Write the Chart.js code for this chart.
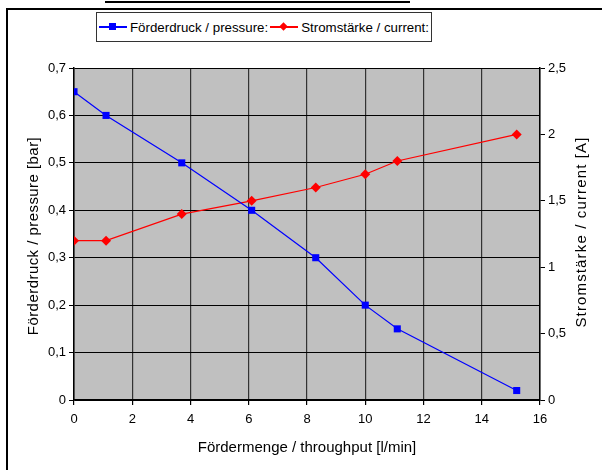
<!DOCTYPE html>
<html>
<head>
<meta charset="utf-8">
<script src="https://cdn.jsdelivr.net/npm/chart.js@4"></script>
<style>
  body { margin: 0; background: #fff; font-family: "Liberation Sans", Arial, sans-serif; }
  #wrap { position: relative; width: 602px; height: 470px; overflow: hidden; }
  #frame { position: absolute; left: 6px; top: 8px; width: 620px; height: 480px; border-left: 2px solid #000; border-top: 2px solid #000; }
  #titleLine { position: absolute; left: 105px; top: 1px; width: 305px; height: 2px; background: #000; }
  #legend { position: absolute; left: 96px; top: 12px; width: 334px; height: 28px; border: 1px solid #333; background: #fff;
            display: flex; align-items: center; justify-content: center; font-size: 13.3px; color: #000; white-space: nowrap; }
  .item { display: flex; align-items: center; margin: 0 1px; }
  .sym { position: relative; width: 28px; height: 10px; margin-right: 3px; }
  .sym .ln { position: absolute; left: 0; right: 0; top: 4px; height: 1.5px; }
  .sym .mk { position: absolute; left: 10px; top: 1px; width: 7px; height: 7px; }
  .sym .dia { transform: rotate(45deg) scale(0.85); }
  canvas { position: absolute; left: 0; top: 0; }
</style>
</head>
<body>
<div id="wrap">
  <div id="titleLine"></div>
  <div id="frame"></div>
  <canvas id="c" width="602" height="470"></canvas>
  <div id="legend">
    <div class="item"><div class="sym"><div class="ln" style="background:#0000ff"></div><div class="mk" style="background:#0000ff"></div></div>Förderdruck / pressure:</div>
    <div class="item"><div class="sym"><div class="ln" style="background:#ff0000"></div><div class="mk dia" style="background:#ff0000"></div></div>Stromstärke / current:</div>
  </div>
</div>
<script>
// throughput in l/min
const throughput = [0, 1.1, 3.7, 6.1, 8.3, 10, 11.1, 15.2];
const pressure = [0.65, 0.6, 0.5, 0.4, 0.3, 0.2, 0.15, 0.02];
const current = [1.2, 1.2, 1.4, 1.5, 1.6, 1.7, 1.8, 2.0];

const labelPressure = 'Förderdruck / pressure:';
const labelCurrent = 'Stromstärke / current:';
const titleX = 'Fördermenge / throughput [l/min]';
const titleLeft = 'Förderdruck / pressure [bar]';
const titleRight = 'Stromstärke / current [A]';

const fontFamily = '"Liberation Sans", Arial, sans-serif';

function comma(v) {
  return String(Math.round(v * 10) / 10).replace('.', ',');
}

// grey plot background
const plotBg = {
  id: 'plotBg',
  beforeDraw(chart) {
    const a = chart.chartArea, ctx = chart.ctx;
    ctx.save();
    ctx.fillStyle = '#c0c0c0';
    ctx.fillRect(a.left, a.top, a.right - a.left, a.bottom - a.top);
    ctx.restore();
  }
};

// text stretched a bit to the width the old Excel rendering had
function spacedText(ctx, text, x, y, rot, width) {
  ctx.save();
  ctx.translate(x, y);
  ctx.rotate(rot);
  ctx.fillStyle = '#000';
  ctx.font = '15px ' + fontFamily;
  ctx.textAlign = 'center';
  ctx.textBaseline = 'middle';
  const w = ctx.measureText(text).width;
  ctx.letterSpacing = Math.max(0, (width - w) / (text.length - 1)) + 'px';
  ctx.fillText(text, 0, 0);
  ctx.restore();
}

const axisTitles = {
  id: 'axisTitles',
  afterDraw(chart) {
    const a = chart.chartArea, ctx = chart.ctx;
    const midY = (a.top + a.bottom) / 2;
    spacedText(ctx, titleLeft, 34, midY + 2, -Math.PI / 2, 198);
    spacedText(ctx, titleRight, 582, midY - 2, -Math.PI / 2, 190);
    spacedText(ctx, titleX, 307, 448, 0, 218);
  }
};

const font = { family: fontFamily, size: 13 };

new Chart(document.getElementById('c'), {
  type: 'scatter',
  data: {
    datasets: [
      {
        label: labelPressure,
        data: throughput.map((x, i) => ({ x: x, y: pressure[i] })),
        yAxisID: 'y',
        showLine: true,
        borderColor: '#0000ff',
        backgroundColor: '#0000ff',
        borderWidth: 1.2,
        pointStyle: 'rect',
        pointRadius: 5,
        pointBorderWidth: 0
      },
      {
        label: labelCurrent,
        data: throughput.map((x, i) => ({ x: x, y: current[i] })),
        yAxisID: 'y2',
        showLine: true,
        borderColor: '#ff0000',
        backgroundColor: '#ff0000',
        borderWidth: 1.2,
        pointStyle: 'rectRot',
        pointRadius: 5,
        pointBorderWidth: 0
      }
    ]
  },
  options: {
    responsive: false,
    animation: false,
    layout: { padding: { top: 68, left: 0, right: 0, bottom: 0 } },
    plugins: { legend: { display: false }, tooltip: { enabled: false } },
    scales: {
      x: {
        type: 'linear', min: 0, max: 16,
        ticks: { stepSize: 2, color: '#000', font: font, padding: 7 },
        grid: { color: '#333', lineWidth: 1.2, tickLength: 5, tickColor: '#000' },
        border: { color: '#000', width: 1.5 },
        title: { display: false },
        afterFit(s) { s.height = 70; }
      },
      y: {
        position: 'left', min: 0, max: 0.7,
        ticks: { stepSize: 0.1, color: '#000', font: font, padding: 3, callback: v => comma(v) },
        grid: { color: '#000', lineWidth: 1, tickLength: 5, tickColor: '#000' },
        border: { color: '#000', width: 1.5 },
        title: { display: false },
        afterFit(s) { s.width = 74; }
      },
      y2: {
        position: 'right', min: 0, max: 2.5,
        ticks: { stepSize: 0.5, color: '#000', font: font, padding: 3, callback: v => comma(v) },
        grid: { drawOnChartArea: false, tickLength: 5, tickColor: '#000' },
        border: { color: '#000', width: 1.5 },
        title: { display: false },
        afterFit(s) { s.width = 62; }
      }
    }
  },
  plugins: [plotBg, axisTitles]
});
</script>
</body>
</html>
